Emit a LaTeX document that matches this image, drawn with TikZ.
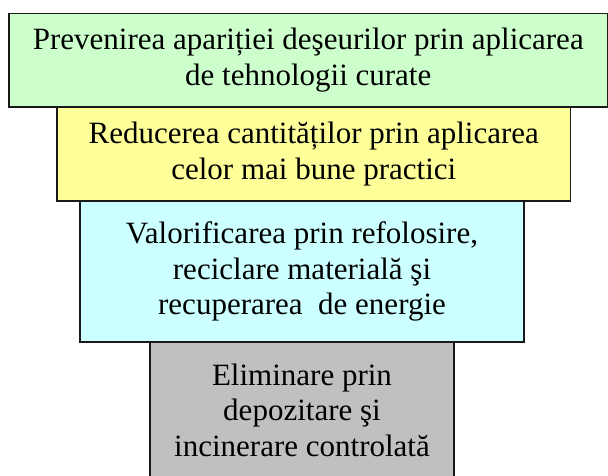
\documentclass[tikz,border=0pt]{standalone}
\usepackage{fontspec}
\setmainfont{Liberation Serif}
\definecolor{boxgreen}{RGB}{204,255,204}
\definecolor{boxyellow}{RGB}{255,255,153}
\definecolor{boxcyan}{RGB}{204,255,255}
\definecolor{boxgray}{RGB}{192,192,192}
\definecolor{edge}{RGB}{25,25,25}
\tikzset{
  tier/.style={draw=edge, line width=1.5pt, rectangle, inner sep=0pt,
    align=center, font=\fontsize{31}{35.5}\selectfont, text=black}
}
\begin{document}
\begin{tikzpicture}[x=1pt,y=1pt]
\useasboundingbox (0,0) rectangle (608,476);
\clip (0,0) rectangle (608,476);
\node[tier, fill=boxgray, minimum width=304pt, minimum height=136pt] (t4) at (302,66)
  {Eliminare prin\\depozitare şi\\incinerare controlată};
\node[tier, fill=boxcyan, minimum width=444pt, minimum height=141pt] (t3) at (302,204.5)
  {Valorificarea prin refolosire,\\reciclare materială şi\\recuperarea~ de energie};
\node[tier, fill=boxyellow, minimum width=513.5pt, minimum height=94pt] (t2) at (313.75,322)
  {Reducerea cantităților prin aplicarea\\celor mai bune practici};
\node[tier, fill=boxgreen, minimum width=598.5pt, minimum height=93.5pt] (t1) at (308.25,415.75)
  {Prevenirea apariției deşeurilor prin aplicarea\\de tehnologii curate};
\end{tikzpicture}
\end{document}
